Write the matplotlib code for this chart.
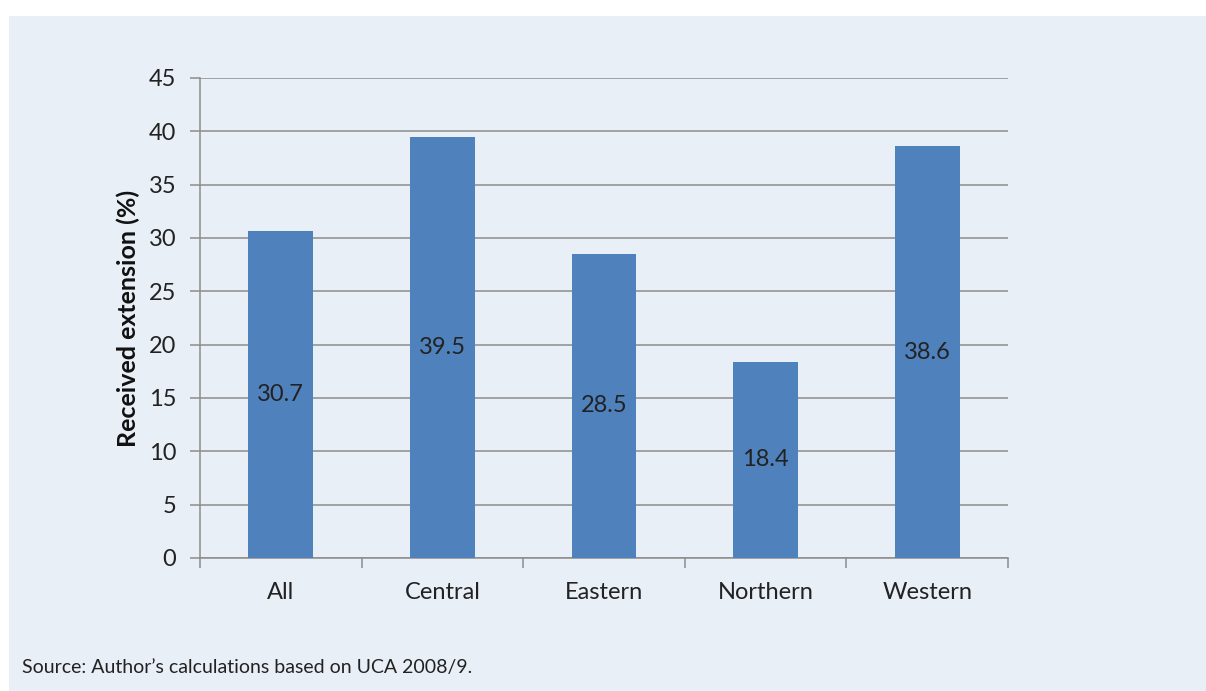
import numpy as np
import matplotlib.pyplot as plt

plt.rcParams['font.family'] = ['Lato', 'DejaVu Sans']

# data
regions = ["All", "Central", "Eastern", "Northern", "Western"]
extension = [30.7, 39.5, 28.5, 18.4, 38.6]
bar_labels = ["30.7", "39.5", "28.5", "18.4", "38.6"]

bg = "#E8EFF6"
bar_color = "#4F81BD"
grid_color = "#8C8C8C"

fig = plt.figure(figsize=(12.06, 6.91), dpi=100)
fig.patch.set_facecolor("white")
# light blue panel behind the chart
fig.patches.append(plt.Rectangle((9 / 1206, 0), 1 - 9 / 1206, 1 - 16 / 691,
                                 transform=fig.transFigure, facecolor=bg,
                                 edgecolor="none", zorder=-10))

ax = fig.add_axes([200 / 1206, 1 - 558 / 691, 808 / 1206, 480 / 691])
ax.set_facecolor(bg)

x = np.arange(len(regions))
bars = ax.bar(x, extension, width=0.4, color=bar_color, zorder=3)

for xi, v, lab in zip(x, extension, bar_labels):
    ax.text(xi, v / 2, lab, ha="center", va="center", fontsize=17,
            color="#222222", zorder=4)

ax.set_xlim(-0.5, len(regions) - 0.5)
ax.set_ylim(0, 45)
ax.set_yticks(np.arange(0, 46, 5))
ax.yaxis.grid(True, color=grid_color, linewidth=1.1, zorder=1)
ax.set_axisbelow(True)

ax.set_xticks(x)
ax.set_xticklabels(regions, fontsize=17, color="#222222")
ax.set_xticks(np.arange(-0.5, len(regions), 1), minor=True)
ax.tick_params(axis="x", which="major", length=0, pad=17)
ax.tick_params(axis="x", which="minor", length=7, color=grid_color, width=1.1)
ax.tick_params(axis="y", length=7, color=grid_color, width=1.1,
               labelsize=17, labelcolor="#222222", pad=10)

for s in ["top", "right"]:
    ax.spines[s].set_visible(False)
for s in ["left", "bottom"]:
    ax.spines[s].set_color(grid_color)
    ax.spines[s].set_linewidth(1.1)

ax.set_ylabel("Received extension (%)", fontsize=18, fontweight="bold",
              color="#111111", labelpad=6)

fig.text(22 / 1206, 1 - 668 / 691, "Source: Author\u2019s calculations based on UCA 2008/9.",
         fontsize=14, color="#222222", va="center", ha="left")

fig.savefig("out.png", dpi=100, facecolor=fig.get_facecolor())
